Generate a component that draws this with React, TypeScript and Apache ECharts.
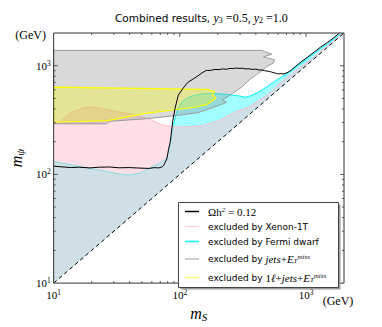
import React, { useEffect, useRef } from "react";
import * as echarts from "echarts";

type Pt = [number, number];

const AXIS_MIN = 10;
const AXIS_MAX = 2000;
const majorTickValues = [100, 1000];
const minorTickValues = [20, 30, 40, 50, 60, 70, 80, 90, 200, 300, 400, 500, 600, 700, 800, 900];

// Omega h^2 = 0.12 contour  [m_S, m_psi] in GeV
const relicCurve: Pt[] = [
  [10, 119], [13.6, 115.6], [16, 116.5], [19.4, 114.8], [23, 116.5], [27.8, 117], [33, 115],
  [39.7, 115.6], [47, 114.5], [56.9, 113.5], [63, 115.5], [68, 114.8], [72, 117], [74.5, 121],
  [78.9, 139], [81.4, 170], [84, 200], [88, 312], [91.8, 409], [97.3, 537], [106.5, 625],
  [116, 705], [127, 753], [139, 805], [150, 860], [162, 905], [175, 905], [190, 925], [205, 920],
  [218, 935], [235, 928], [250, 945], [265, 940], [277, 952], [295, 945], [315, 948], [331, 935],
  [351, 938], [375, 925], [400, 930], [425, 912], [447, 915], [470, 900], [490, 893], [515, 885],
  [535, 873], [560, 860], [585, 848], [602, 841], [630, 846], [660, 840], [687, 851], [720, 870],
  [764, 912], [830, 990], [914, 1084], [1030, 1200], [1161, 1337], [1300, 1480], [1476, 1637],
  [1650, 1800], [1840, 2000],
];

// Fermi dwarf exclusion: upper boundary (region extends down to m_psi = m_S)
const fermiBoundary: Pt[] = [
  [10, 131], [14, 122], [19.4, 113.5], [27, 106], [33, 101], [38.5, 99], [43, 100], [47.5, 102.5],
  [52, 107], [56.9, 113.5], [64, 121], [72, 130], [78, 140], [81.4, 159], [84, 185], [86.3, 223],
  [89, 280], [91.8, 334], [96, 395], [100.4, 438], [106, 475], [113, 501], [123, 522], [135, 540],
  [155, 550], [182, 555], [215, 550], [261, 537], [300, 525], [331, 512], [365, 530], [408, 561],
  [450, 600], [503, 653], [560, 712], [638, 783], [750, 890], [861, 1000], [1000, 1140],
  [1161, 1303], [1300, 1440], [1476, 1585], [1700, 1800], [1930, 2000],
];

// Xenon-1T exclusion: upper boundary (region extends down to m_psi = m_S)
const xenonBoundary: Pt[] = [
  [10, 290], [11.3, 308], [13.6, 370], [17.1, 409], [20.5, 418], [26.2, 395], [33, 375],
  [42, 357], [56.9, 323], [74.5, 282], [90, 275], [106, 273], [127, 276], [152, 282], [182, 300],
  [215, 320], [243, 348], [290, 385], [354, 418], [420, 475], [489, 533], [560, 615], [638, 708],
  [800, 880], [1038, 1084], [1250, 1300], [1483, 1520], [1960, 2000],
];

// jets + E_T^miss exclusion region (closed outline)
const jetsRegion: Pt[] = [
  [10, 1384], [447, 1384], [470, 1350], [535, 1276], [460, 1208], [564, 1130], [551, 1057],
  [489, 986], [460, 922], [408, 834], [360, 753], [312, 640], [261, 555], [218, 484], [234, 462],
  [218, 444], [173, 404], [139, 370], [94, 348], [52, 324], [27.8, 308], [26.2, 292], [10, 292],
];

// 1 lepton + jets + E_T^miss exclusion region (closed outline)
const leptonRegion: Pt[] = [
  [10, 636], [152, 606], [167, 606], [188, 574], [182, 537], [193, 501], [162, 438], [131, 415],
  [52, 362], [26.8, 312], [10, 302],
];

const diagonal: Pt[] = [[10, 10], [2000, 2000]];

const legendLabels = [
  "{m|Ωh}{sup|2}{m| = 0.12}",
  "{t|excluded by Xenon-1T}",
  "{t|excluded by Fermi dwarf}",
  "{t|excluded by }{i|jets}{m|+}{i|E}{sub|T}{sup|miss}",
  "{t|excluded by }{m|1}{i|ℓ}{m|+}{i|jets}{m|+}{i|E}{sub|T}{sup|miss}",
];
const legendColors = ["#000000", "rgba(255,192,203,0.7)", "#00ffff", "#bdbdbd", "rgba(255,255,0,0.55)"];

const SERIF = "'Liberation Serif', 'DejaVu Serif', serif";
const SANS = "'DejaVu Sans', 'Liberation Sans', sans-serif";

const richText: any = {
  t: { fontFamily: SANS, fontSize: 9, color: "#000" },
  m: { fontFamily: SERIF, fontSize: 11, color: "#000" },
  i: { fontFamily: SERIF, fontStyle: "italic", fontSize: 11, color: "#000" },
  sup: { fontFamily: SERIF, fontStyle: "italic", fontSize: 7, color: "#000", verticalAlign: "top", lineHeight: 8 },
  sub: { fontFamily: SERIF, fontStyle: "italic", fontSize: 7, color: "#000", verticalAlign: "bottom", lineHeight: 8 },
};

function regionSeries(name: string, outline: Pt[], toDiagonal: boolean, fill: string, stroke: string, lw: number) {
  return {
    type: "custom",
    name,
    coordinateSystem: "cartesian2d",
    silent: true,
    clip: true,
    data: [[AXIS_MIN, AXIS_MIN]],
    renderItem: (_params: any, api: any) => {
      const poly: Pt[] = toDiagonal ? [...outline, [AXIS_MAX, AXIS_MAX], [AXIS_MIN, AXIS_MIN]] : outline;
      const fillPts = poly.map((p) => api.coord(p));
      const edgePts = outline.map((p) => api.coord(p));
      if (!toDiagonal) edgePts.push(edgePts[0]);
      return {
        type: "group",
        children: [
          { type: "polygon", shape: { points: fillPts }, style: { fill, stroke: "none" } },
          { type: "polyline", shape: { points: edgePts }, style: { fill: "none", stroke, lineWidth: lw } },
        ],
      };
    },
  };
}

const logLabel = (v: number) => {
  const e = Math.log10(v);
  if (Math.abs(e - Math.round(e)) > 0.01) return "";
  return `{b|10}{e|${Math.round(e)}}`;
};

const axisLabelRich = {
  b: { fontFamily: SERIF, fontSize: 11, color: "#000", lineHeight: 13 },
  e: { fontFamily: SERIF, fontSize: 7.5, color: "#000", verticalAlign: "top", lineHeight: 8 },
};

export default function App() {
  const ref = useRef<HTMLDivElement>(null);
  useEffect(() => {
    if (!ref.current) return;
    const chart = echarts.init(ref.current, undefined, { renderer: "svg" });

    const legendY = [211.5, 226.5, 241.5, 259, 277.5];
    const legendGraphics: any[] = [
      { type: "rect", shape: { x: 180.5, y: 204.5, width: 160, height: 85 }, style: { fill: "#9a9a9a", stroke: "none" }, z: 100 },
      { type: "rect", shape: { x: 178.5, y: 202.5, width: 160, height: 85 }, style: { fill: "#ffffff", stroke: "#444", lineWidth: 1 }, z: 101 },
    ];
    legendLabels.forEach((txt, k) => {
      legendGraphics.push({
        type: "line",
        shape: { x1: 185, y1: legendY[k], x2: 199, y2: legendY[k] },
        style: { stroke: legendColors[k], lineWidth: 1.5 },
        z: 102,
      });
      legendGraphics.push({
        type: "text",
        x: 208,
        y: legendY[k],
        style: { text: txt, rich: richText, align: "left", verticalAlign: "middle" },
        z: 102,
      });
    });

    const option: any = {
      animation: false,
      backgroundColor: "#ffffff",
      title: {
        text: "{a|Combined results, }{i|y}{d|3}{m| =0.5, }{i|y}{d|2}{m| =1.0}",
        left: 115,
        top: 12,
        padding: 0,
        textStyle: {
          fontWeight: "normal",
          rich: {
            a: { fontFamily: SANS, fontSize: 10.5, fontWeight: "normal", color: "#000" },
            m: { fontFamily: SERIF, fontSize: 12, fontWeight: "normal", color: "#000" },
            i: { fontFamily: SERIF, fontStyle: "italic", fontWeight: "normal", fontSize: 12, color: "#000" },
            d: { fontFamily: SERIF, fontSize: 8, fontWeight: "normal", color: "#000", verticalAlign: "bottom", lineHeight: 9 },
          },
        },
      },
      grid: { left: 48, right: 38, top: 33, bottom: 34 },
      xAxis: {
        type: "log",
        logBase: 10,
        min: AXIS_MIN,
        max: AXIS_MAX,
        axisLine: { show: false },
        axisTick: { show: false },
        splitLine: { show: false },
        axisLabel: { formatter: logLabel, rich: axisLabelRich, margin: 5 },
        name: "{m|m}{s|S}",
        nameLocation: "middle",
        nameGap: 15,
        nameTextStyle: {
          rich: {
            m: { fontFamily: SERIF, fontStyle: "italic", fontSize: 16, color: "#000", lineHeight: 18 },
            s: { fontFamily: SERIF, fontStyle: "italic", fontSize: 11, color: "#000", verticalAlign: "bottom", lineHeight: 10 },
          },
        },
      },
      yAxis: {
        type: "log",
        logBase: 10,
        min: AXIS_MIN,
        max: AXIS_MAX,
        axisLine: { show: false },
        axisTick: { show: false },
        splitLine: { show: false },
        axisLabel: { formatter: logLabel, rich: axisLabelRich, margin: 3 },
        name: "{m|m}{s|ψ}",
        nameLocation: "middle",
        nameGap: 20,
        nameRotate: 90,
        nameTextStyle: {
          rich: {
            m: { fontFamily: SERIF, fontStyle: "italic", fontSize: 16, color: "#000", lineHeight: 18 },
            s: { fontFamily: SERIF, fontStyle: "italic", fontSize: 11, color: "#000", verticalAlign: "bottom", lineHeight: 10 },
          },
        },
      },
      graphic: [
        { type: "text", x: 46, y: 35, style: { text: "(GeV)", fontFamily: SERIF, fontSize: 12, fill: "#000", align: "right", verticalAlign: "middle" } },
        { type: "text", x: 338, y: 301, style: { text: "(GeV)", fontFamily: SERIF, fontSize: 12, fill: "#000", align: "center", verticalAlign: "middle" } },
        ...legendGraphics,
      ],
      series: [
        regionSeries("excluded by Fermi dwarf", fermiBoundary, true, "rgba(0,255,255,0.37)", "#00ffff", 1),
        regionSeries("excluded by Xenon-1T", xenonBoundary, true, "rgba(255,192,203,0.5)", "rgba(255,185,200,0.9)", 1),
        regionSeries("excluded by jets", jetsRegion, false, "rgba(128,128,128,0.3)", "#9a9a9a", 1),
        regionSeries("excluded by 1l jets", leptonRegion, false, "rgba(255,255,0,0.3)", "#ffff00", 1.2),
        {
          type: "line",
          name: "diagonal",
          data: diagonal,
          showSymbol: false,
          silent: true,
          clip: true,
          lineStyle: { color: "#000", width: 1, type: [4, 3] },
          z: 5,
        },
        {
          type: "line",
          name: "Ωh² = 0.12",
          data: relicCurve,
          showSymbol: false,
          silent: true,
          clip: true,
          lineStyle: { color: "#000", width: 1 },
          z: 6,
        },
        {
          type: "custom",
          name: "frame",
          coordinateSystem: "cartesian2d",
          silent: true,
          clip: false,
          z: 8,
          data: [[AXIS_MIN, AXIS_MIN]],
          renderItem: (params: any, api: any) => {
            const cs = params.coordSys;
            const left = cs.x, top = cs.y, right = cs.x + cs.width, bottom = cs.y + cs.height;
            const st = { stroke: "#333", lineWidth: 0.8 };
            const children: any[] = [];
            const add = (v: number, len: number) => {
              const px = api.coord([v, AXIS_MIN])[0];
              children.push({ type: "line", shape: { x1: px, y1: bottom, x2: px, y2: bottom - len }, style: st });
              children.push({ type: "line", shape: { x1: px, y1: top, x2: px, y2: top + len }, style: st });
              const py = api.coord([AXIS_MIN, v])[1];
              children.push({ type: "line", shape: { x1: left, y1: py, x2: left + len, y2: py }, style: st });
              children.push({ type: "line", shape: { x1: right, y1: py, x2: right - len, y2: py }, style: st });
            };
            majorTickValues.forEach((v) => add(v, 4));
            minorTickValues.forEach((v) => add(v, 2));
            children.push({
              type: "rect",
              shape: { x: left, y: top, width: cs.width, height: cs.height },
              style: { fill: "none", stroke: "#333", lineWidth: 1 },
            });
            return { type: "group", children };
          },
        },
      ],
    };
    chart.setOption(option);
    return () => chart.dispose();
  }, []);
  return <div ref={ref} style={{ width: 382, height: 327, position: "absolute", left: 0, top: 0 }} />;
}
